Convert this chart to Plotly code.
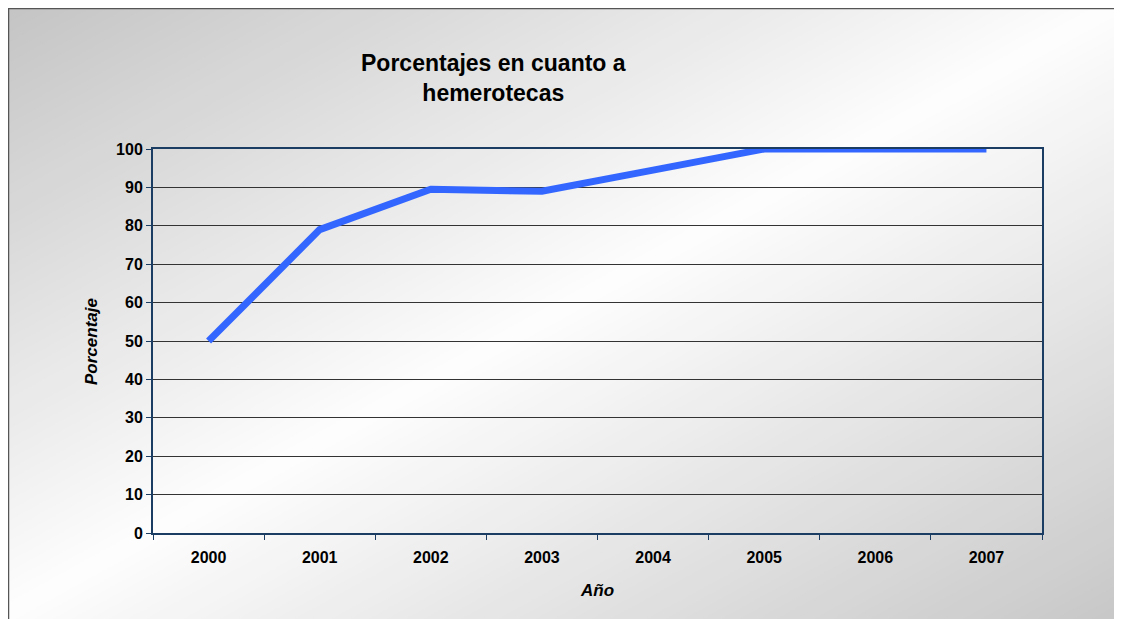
import plotly.graph_objects as go

# datos
anios = ["2000", "2001", "2002", "2003", "2004", "2005", "2006", "2007"]
porcentaje = [50, 79, 89.5, 89, 94.5, 100, 100, 100]
y_ticks = [0, 10, 20, 30, 40, 50, 60, 70, 80, 90, 100]

# la pagina deja 8px de margen, el grafico ocupa el resto de la ventana
OFF = 8
W, H = 1122 - OFF, 619 - OFF
FONT = "Liberation Sans, Arial, sans-serif"


def px_x(p):
    return (p - OFF) / W


def px_y(p):
    return 1 - (p - OFF) / H


# fondo degradado diagonal (gris - blanco - gris) hecho con bandas
shapes = []
n = 120
for i in range(n):
    k0 = -1 + 2 * i / n
    k1 = -1 + 2 * (i + 1) / n
    t = (i + 0.5) / n
    # t=0 esquina sup. izq., t=1 esquina inf. der.
    if t < 0.5:
        g = 196 + (253 - 196) * (t / 0.5)
    else:
        g = 253 - (253 - 200) * ((t - 0.5) / 0.5)
    g = int(round(g))
    path = (f"M {k0 - 1 - 0.01},{-1} L {k0 + 2 - 0.01},{2} "
            f"L {k1 + 2 + 0.01},{2} L {k1 - 1 + 0.01},{-1} Z")
    shapes.append(dict(type="path", xref="paper", yref="paper", path=path,
                       fillcolor=f"rgb({g},{g},{g})", line=dict(width=0),
                       layer="below"))

# borde del area del grafico
shapes.append(dict(type="rect", xref="paper", yref="paper",
                   x0=px_x(8.5), x1=1.2, y0=-0.2, y1=px_y(8.5),
                   line=dict(color="#555555", width=1.5),
                   fillcolor="rgba(0,0,0,0)", layer="above"))

fig = go.Figure()
fig.add_trace(go.Scatter(
    x=anios,
    y=porcentaje,
    mode="lines",
    line=dict(color="#3366ff", width=7),
    showlegend=False,
    hoverinfo="x+y"
))

axis_font = dict(family=FONT, size=16, color="#000000", weight="bold")

fig.update_layout(
    width=W,
    height=H,
    margin=dict(l=0, r=0, t=0, b=0),
    paper_bgcolor="#d9d9d9",
    plot_bgcolor="rgba(0,0,0,0)",
    shapes=shapes,
    xaxis=dict(
        type="category",
        domain=[px_x(153), px_x(1042)],
        range=[-0.5, 7.5],
        tickson="boundaries",
        ticks="outside",
        ticklen=5,
        tickcolor="#1c3d63",
        tickfont=axis_font,
        ticklabelstandoff=9,
        showgrid=False,
        showline=True,
        linecolor="#1c3d63",
        linewidth=2,
        mirror=True,
        automargin=False,
    ),
    yaxis=dict(
        domain=[px_y(533), px_y(149)],
        range=[0, 100],
        tickvals=y_ticks,
        ticks="outside",
        ticklen=5,
        tickcolor="#1c3d63",
        tickfont=axis_font,
        showgrid=True,
        gridcolor="#333333",
        gridwidth=1,
        zeroline=False,
        showline=True,
        linecolor="#1c3d63",
        linewidth=2,
        mirror=True,
        automargin=False,
    ),
    annotations=[
        dict(text="Porcentajes en cuanto a<br>hemerotecas",
             xref="paper", yref="paper", x=px_x(493), y=px_y(78),
             xanchor="center", yanchor="middle", showarrow=False,
             font=dict(family=FONT, size=23, color="#000000", weight="bold")),
        dict(text="<i>Porcentaje</i>",
             xref="paper", yref="paper", x=px_x(91), y=px_y(341),
             xanchor="center", yanchor="middle", showarrow=False, textangle=-90,
             font=dict(family=FONT, size=17, color="#000000", weight="bold")),
        dict(text="<i>Año</i>",
             xref="paper", yref="paper", x=px_x(597), y=px_y(590),
             xanchor="center", yanchor="middle", showarrow=False,
             font=dict(family=FONT, size=17, color="#000000", weight="bold")),
    ],
)

fig.write_html("out.html")
